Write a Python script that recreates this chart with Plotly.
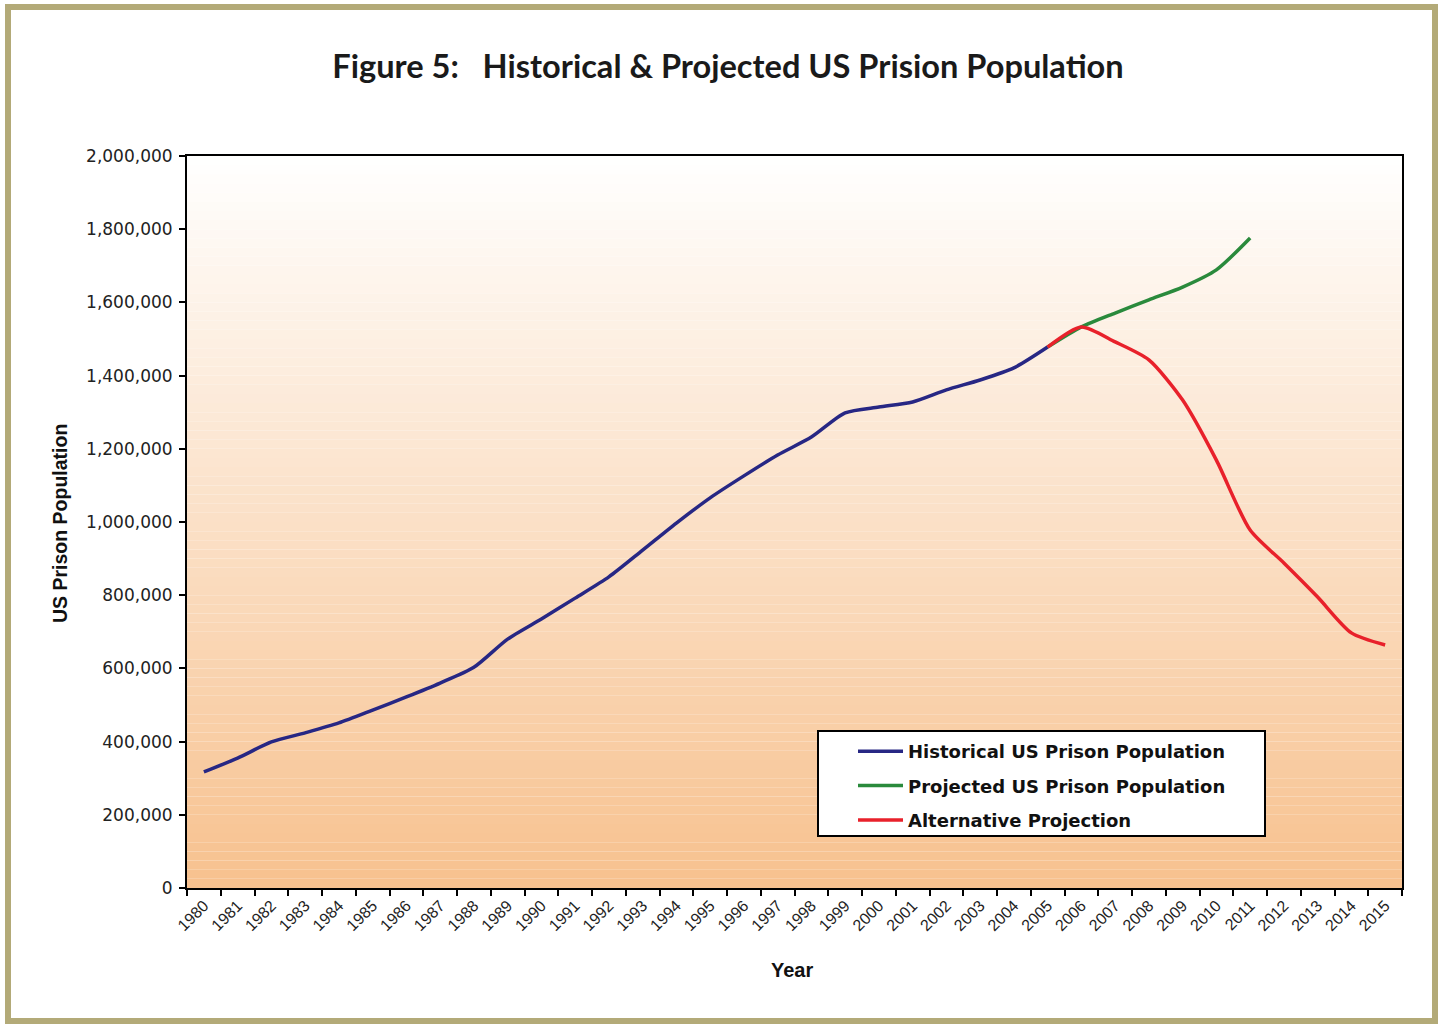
import plotly.graph_objects as go

# ---------------- data ----------------
years = ["1980", "1981", "1982", "1983", "1984", "1985", "1986", "1987", "1988", "1989",
         "1990", "1991", "1992", "1993", "1994", "1995", "1996", "1997", "1998", "1999",
         "2000", "2001", "2002", "2003", "2004", "2005", "2006", "2007", "2008", "2009",
         "2010", "2011", "2012", "2013", "2014", "2015"]

historical_years = years[0:26]          # 1980-2005
historical = [317000, 355000, 399000, 424000, 451000, 486000, 522000, 560000, 603000, 680000,
              735000, 792000, 850000, 923000, 997000, 1066000, 1126000, 1183000, 1232000, 1298000,
              1314000, 1328000, 1361000, 1388000, 1421000, 1478000]

projected_years = years[25:32]          # 2005-2011
projected = [1478000, 1533000, 1571000, 1607000, 1642000, 1689000, 1776000]

alternative_years = years[25:36]        # 2005-2015
alternative = [1478000, 1533000, 1492000, 1443000, 1333000, 1169000, 978000, 888000,
               795000, 697000, 664000]

y_ticks = [0, 200000, 400000, 600000, 800000, 1000000, 1200000, 1400000, 1600000, 1800000, 2000000]

# ---------------- layout geometry ----------------
W, H = 1440, 1024
ML, MR, MT, MB = 187, 38, 156, 136
PW, PH = W - ML - MR, H - MT - MB


def px_x(px):
    return (px - ML) / PW


def px_y(py):
    return (H - MB - py) / PH


fig = go.Figure()

fig.add_trace(go.Scatter(
    x=historical_years, y=historical, mode="lines", name="Historical US Prison Population",
    line=dict(color="#272784", width=3.5, shape="spline", smoothing=0.7), legendgroup="a"))
fig.add_trace(go.Scatter(
    x=projected_years, y=projected, mode="lines", name="Projected US Prison Population",
    line=dict(color="#2A8A3C", width=3.5, shape="spline", smoothing=0.7), legendgroup="b"))
fig.add_trace(go.Scatter(
    x=alternative_years, y=alternative, mode="lines", name="Alternative Projection",
    line=dict(color="#E8212B", width=3.5, shape="spline", smoothing=0.7), legendgroup="c"))

# gradient plot background (white -> light orange)
shapes = []
n = 80
top = (255, 255, 255)
bot = (247, 193, 142)
for i in range(n):
    t = (i + 0.5) / n
    c = tuple(int(round(top[k] + (bot[k] - top[k]) * t)) for k in range(3))
    shapes.append(dict(type="rect", xref="paper", yref="paper",
                       x0=0, x1=1, y0=1 - (i + 1) / n, y1=1 - i / n,
                       fillcolor="rgb(%d,%d,%d)" % c, line=dict(width=0), layer="below"))

# legend box
shapes.append(dict(type="rect", xref="paper", yref="paper",
                   x0=px_x(818), x1=px_x(1265), y0=px_y(836), y1=px_y(731),
                   line=dict(color="black", width=2), fillcolor="white", layer="above"))

# outer olive frame
shapes.append(dict(type="rect", xref="paper", yref="paper",
                   x0=px_x(8), x1=px_x(1435), y0=px_y(1021), y1=px_y(7),
                   line=dict(color="#B3AA78", width=6), fillcolor="rgba(0,0,0,0)", layer="above"))

fig.update_layout(
    width=W, height=H,
    margin=dict(l=ML, r=MR, t=MT, b=MB),
    paper_bgcolor="white", plot_bgcolor="white",
    shapes=shapes,
    title=dict(text="Figure 5:&nbsp;&nbsp; Historical &amp; Projected US Prision Population",
               x=728 / W, y=1 - 67 / H, xref="container", yref="container",
               xanchor="center", yanchor="middle",
               font=dict(family="Lato", size=32.6, color="#1a1a1a", weight="bold")),
    font=dict(family="Liberation Sans, Arial", color="#1a1a1a"),
    showlegend=True,
    legend=dict(x=px_x(853), y=px_y(733), xanchor="left", yanchor="top",
                bgcolor="rgba(0,0,0,0)", borderwidth=0,
                font=dict(family="DejaVu Sans", size=18, color="#111", weight="bold"),
                traceorder="grouped", tracegroupgap=8, itemwidth=45),
    annotations=[
        dict(text="<b>US Prison Population</b>", xref="paper", yref="paper",
             x=px_x(60), y=px_y(524), xanchor="center", yanchor="middle",
             textangle=-90, showarrow=False,
             font=dict(family="Liberation Sans, Arial", size=19.5, color="#111")),
        dict(text="<b>Year</b>", xref="paper", yref="paper",
             x=px_x(792), y=px_y(970), xanchor="center", yanchor="middle", showarrow=False,
             font=dict(family="Liberation Sans, Arial", size=20, color="#111")),
    ],
)

fig.update_xaxes(
    type="category", categoryorder="array", categoryarray=years,
    range=[-0.5, len(years) - 0.5],
    showline=True, linecolor="black", linewidth=2, mirror=True,
    ticks="outside", tickson="boundaries", ticklen=6, tickcolor="black", tickwidth=1.5,
    tickangle=-45, tickfont=dict(family="Liberation Sans, Arial", size=16, color="#222"),
    showgrid=False, zeroline=False)

fig.update_yaxes(
    range=[0, 2000000], tickvals=y_ticks, tickformat=",d",
    showline=True, linecolor="black", linewidth=2, mirror=True,
    ticks="outside", ticklen=6, tickcolor="black", tickwidth=1.5,
    ticklabelstandoff=3,
    tickfont=dict(family="DejaVu Sans", size=17, color="#222"),
    showgrid=False, zeroline=False)

fig.write_html("out.html", config={"displayModeBar": False},
               post_script="document.body.style.margin='0';")
